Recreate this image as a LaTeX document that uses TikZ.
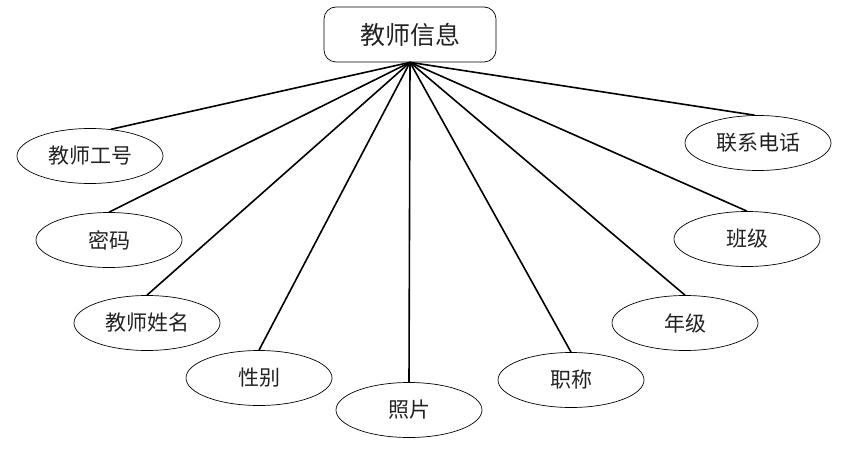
\documentclass[tikz,border=0pt]{standalone}
\usepackage{fontspec}
\newfontfamily\cjk{Noto Sans CJK SC}
\usepackage{tikz}
\usetikzlibrary{shapes.geometric, positioning}
\definecolor{linkblack}{HTML}{000000}
\definecolor{textgray}{HTML}{222222}

\begin{document}
\begin{tikzpicture}[x=1pt, y=-1pt,
  entity/.style={rectangle, rounded corners=12pt, draw=linkblack, line width=0.7pt,
    minimum width=172pt, minimum height=55pt, font=\cjk\fontsize{25}{28}\selectfont, text=textgray},
  attr/.style={ellipse, draw=linkblack, line width=0.7pt,
    minimum width=146pt, minimum height=55pt, font=\cjk\fontsize{21}{24}\selectfont, text=textgray},
  link/.style={line width=1.6pt, linkblack}
]
  \useasboundingbox (0,0) rectangle (858,449);

  % entity
  \node[entity] (teacher) at (410, 34.5) {教师信息};

  % attributes, left side
  \node[attr] (gonghao) at (90, 156) {教师工号};
  \node[attr] (mima) at (109, 240) {密码};
  \node[attr] (xingming) at (147, 323) {教师姓名};
  \node[attr] (xingbie) at (259, 378) {性别};
  \node[attr] (zhaopian) at (409, 410) {照片};

  % attributes, right side
  \node[attr] (zhicheng) at (571, 380) {职称};
  \node[attr] (nianji) at (685, 323) {年级};
  \node[attr] (banji) at (747, 239) {班级};
  \node[attr] (dianhua) at (758, 143) {联系电话};

  \draw[link] (teacher.south) -- (gonghao.52);
  \foreach \a in {mima, xingming, xingbie, zhaopian, zhicheng, nianji, banji}
    \draw[link] (teacher.south) -- (\a.north);
  \draw[link] (teacher.south) -- (dianhua.97);
\end{tikzpicture}
\end{document}
